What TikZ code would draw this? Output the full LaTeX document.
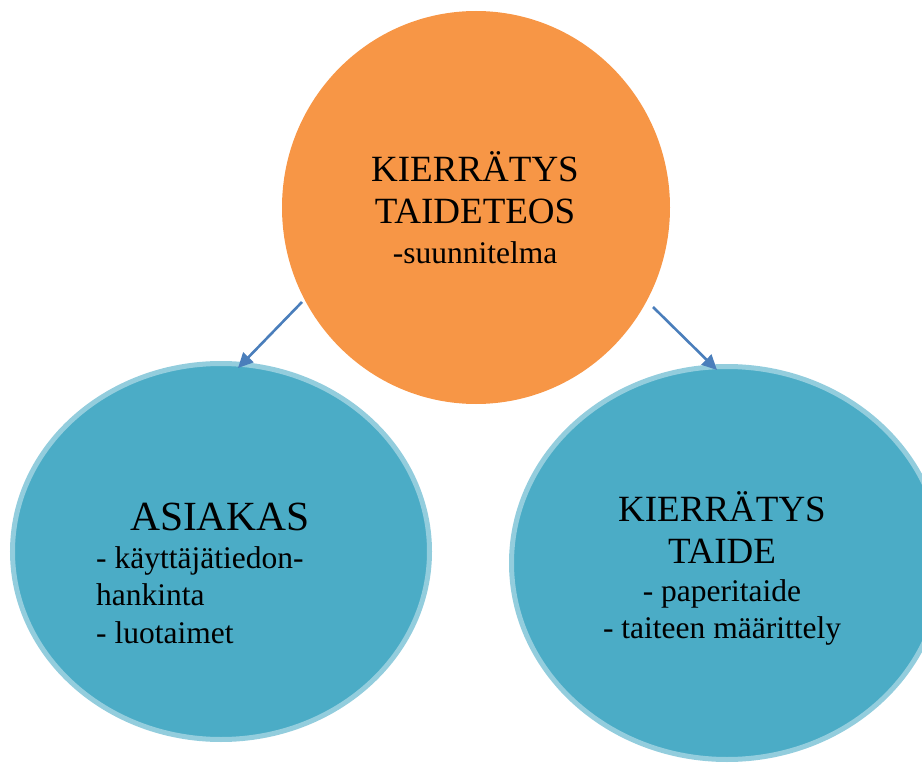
\documentclass[tikz,border=0pt]{standalone}
\usepackage{fontspec}
\setmainfont{Liberation Serif}
\usetikzlibrary{shapes.geometric,arrows.meta}
\definecolor{orangefill}{HTML}{F79646}
\definecolor{tealfill}{HTML}{4BACC6}
\definecolor{tealedge}{HTML}{93CDDD}
\definecolor{arrowblue}{HTML}{4A7EBB}
\tikzset{
  orangebubble/.style={ellipse,fill=orangefill,draw=none,inner sep=0pt,outer sep=0pt},
  tealbubble/.style={ellipse,fill=tealfill,draw=tealedge,line width=5pt,inner sep=0pt,outer sep=0pt},
  bigtext/.style={font=\fontsize{37}{42}\selectfont,anchor=base,inner sep=0pt},
  smalltext/.style={font=\fontsize{31.5}{38}\selectfont,anchor=base,inner sep=0pt},
  link/.style={draw=arrowblue,line width=2.6pt,-{Triangle[length=15pt,width=14pt]}}
}
\begin{document}
\begin{tikzpicture}[x=1pt,y=-1pt]
\useasboundingbox (0,0) rectangle (922,765);
\clip (0,0) rectangle (922,765);
% bubbles
\node[orangebubble,minimum width=388pt,minimum height=393pt] (top) at (476,207.5) {};
\node[tealbubble,minimum width=417pt,minimum height=376pt] (asiakas) at (221,551.5) {};
\node[tealbubble,minimum width=431pt,minimum height=393pt] (taide) at (727,563) {};
% texts of the top bubble
\node[bigtext] (t1) at (475,182) {KIERRÄTYS};
\node[bigtext] (t2) at (475,223) {TAIDETEOS};
\node[smalltext] (t3) at (475,263) {-suunnitelma};
% texts of the left bubble
\node[font=\fontsize{41.5}{46}\selectfont,anchor=base,inner sep=0pt] (l1) at (220,530) {ASIAKAS};
\node[smalltext,anchor=base west] (l2) at (96,568) {- käyttäjätiedon-};
\node[smalltext,anchor=base west] (l3) at (96,605) {hankinta};
\node[smalltext,anchor=base west] (l4) at (96,643) {- luotaimet};
% texts of the right bubble
\node[bigtext] (r1) at (722,521) {KIERRÄTYS};
\node[bigtext] (r2) at (722,563) {TAIDE};
\node[smalltext] (r3) at (722,601) {- paperitaide};
\node[smalltext] (r4) at (722,638) {- taiteen määrittely};
% connectors
\coordinate (s1) at (302,302);
\coordinate (e1) at (238,368);
\coordinate (s2) at (653,307);
\coordinate (e2) at (717,370);
\draw[link] (s1) -- (e1);
\draw[link] (s2) -- (e2);
\end{tikzpicture}
\end{document}
